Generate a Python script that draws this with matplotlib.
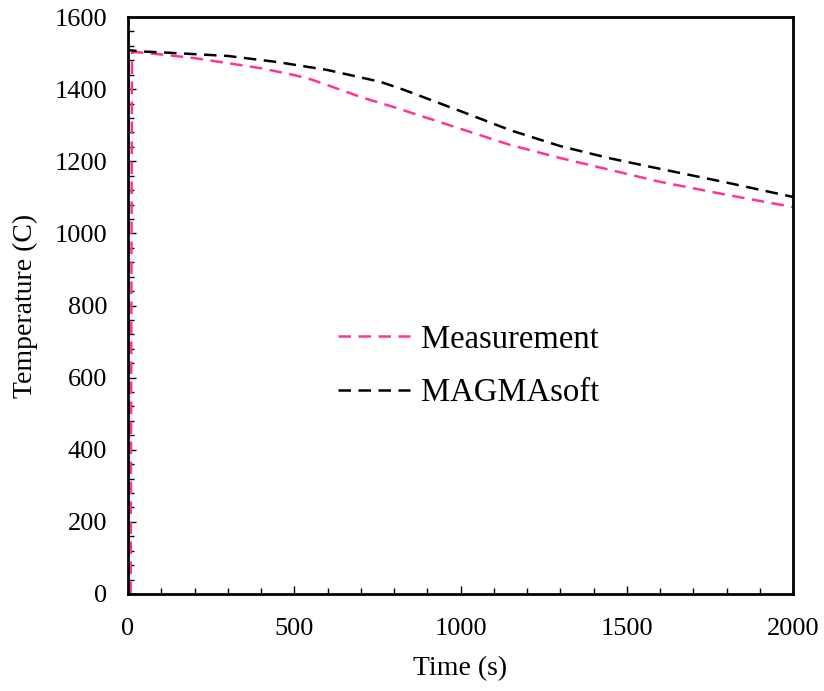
import matplotlib.pyplot as plt
from matplotlib.ticker import MultipleLocator

plt.rcParams['font.family'] = ['Liberation Serif', 'DejaVu Serif']

# ---------- DATA ----------
meas_t = [8, 12, 20, 100, 200, 300, 400, 500, 550, 600, 700, 800, 1000, 1150, 1300, 1600, 1800, 2000]
meas_T = [0, 1500, 1503, 1496, 1486, 1472, 1458, 1439, 1427, 1411, 1378, 1350, 1290, 1245, 1209, 1143, 1107, 1073]

magma_t = [0, 0, 50, 100, 300, 450, 600, 760, 830, 1000, 1150, 1300, 1450, 1600, 1800, 2000]
magma_T = [0, 1508, 1504, 1502, 1492, 1475, 1453, 1420, 1398, 1339, 1286, 1242, 1208, 1179, 1141, 1101]

# ---------- PLOT ----------
fig = plt.figure(figsize=(8.24, 6.91), dpi=100)
ax = fig.add_axes([128 / 824, 1 - 594 / 691, 665 / 824, 577 / 691])

ax.plot(meas_t, meas_T, color='#ff3399', lw=1.8, dashes=(5, 3), label='Measurement')
ax.plot(magma_t, magma_T, color='black', lw=1.8, dashes=(5, 3), label='MAGMAsoft')

ax.set_xlim(0, 2000)
ax.set_ylim(0, 1600)
ax.xaxis.set_major_locator(MultipleLocator(500))
ax.xaxis.set_minor_locator(MultipleLocator(100))
ax.yaxis.set_major_locator(MultipleLocator(200))
ax.yaxis.set_minor_locator(MultipleLocator(40))
ax.tick_params(which='both', direction='in', labelsize=19, top=False, right=False)
ax.tick_params(which='major', length=6, width=1)
ax.tick_params(which='minor', length=4, width=1)
ax.tick_params(axis='x', pad=17)
ax.tick_params(axis='y', pad=15)
for s in ax.spines.values():
    s.set_linewidth(2)

ax.set_xlabel('Time (s)', fontsize=20, labelpad=12)
ax.set_ylabel('Temperature (C)', fontsize=20, labelpad=12)

ax.legend(loc='center', bbox_to_anchor=(0.512, 0.395), frameon=False, fontsize=23.5,
          handlelength=2.2, handletextpad=0.35, labelspacing=0.7)

fig.savefig('out.png', dpi=100)
